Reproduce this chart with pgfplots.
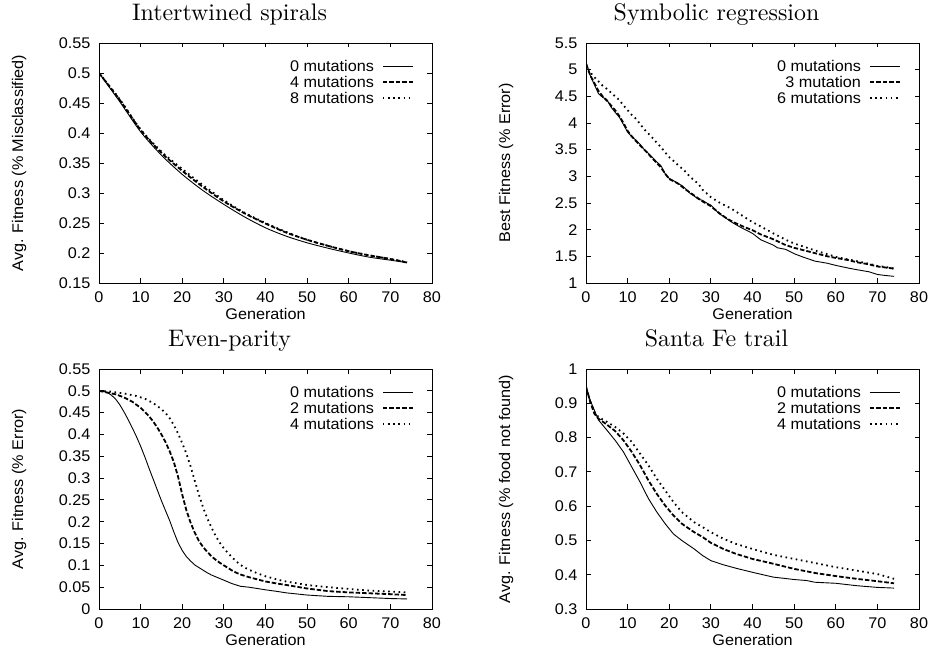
\documentclass[border=0pt]{standalone}
\usepackage{fontspec}
\usepackage{pgfplots}
\pgfplotsset{compat=1.18}
\newfontfamily\helv[FakeStretch=1.05]{Liberation Sans}
\newfontfamily\tfont{lmroman10-regular.otf}

\pgfplotsset{
  gpl/.style={
    scale only axis,
    width=333bp, height=240bp,
    anchor=south west,
    xmin=0, xmax=80,
    xtick={0,10,...,80},
    scaled ticks=false,
    /pgf/number format/assume math mode=true,
    /pgf/number format/fixed,
    /pgf/number format/precision=2,
    tick label style={font=\helv\fontsize{15.5}{18}\selectfont},
    xticklabel style={yshift=-5bp},
    yticklabel style={xshift=-5bp},
    label style={font=\helv\fontsize{15.5}{18}\selectfont},
    xlabel={Generation},
    xlabel style={at={(axis description cs:0.5,-0.129)}, anchor=center},
    ylabel style={at={(axis description cs:-0.24,0.5)}, anchor=center},
    title style={font=\tfont\fontsize{24}{28}\selectfont, at={(axis description cs:0.392,1)}, anchor=base, yshift=16.5bp},
    axis line style={line width=0.9bp},
    major tick style={line width=0.9bp, black},
    major tick length=4.5bp,
    legend plot pos=right,
    legend image code/.code={\draw[#1] (0bp,0bp) -- (30bp,0bp);},
    legend style={draw=none, fill=none, font=\helv\fontsize{15.5}{18}\selectfont,
      at={(1,1)}, anchor=north east, xshift=-18bp, yshift=-16.4bp,
      inner sep=0pt, row sep=2.9bp, column sep=7bp,
      nodes={inner sep=1bp, text height=11.1bp, text depth=0pt},
      cells={anchor=east}},
  },
  s0/.style={black, line width=0.9bp},
  s1/.style={black, line width=1.8bp, dash pattern=on 4.5bp off 2bp},
  s2/.style={black, line width=1.8bp, dash pattern=on 1.6bp off 3.6bp},
}

\begin{document}
\begin{tikzpicture}
\path[use as bounding box] (0,0) rectangle (929bp,652bp);

% Intertwined spirals
\begin{axis}[gpl, at={(99bp,369bp)},
  title={Intertwined spirals},
  ylabel={Avg. Fitness (\% Misclassified)},
  ymin=0.15, ymax=0.55,
  ytick={0.15,0.2,0.25,0.3,0.35,0.4,0.45,0.5,0.55}]
\addplot[s0, smooth] coordinates {(0,0.5)(5,0.452)(10,0.402)(15,0.363)(20,0.331)(25,0.304)(30,0.281)(35,0.26)(40,0.242)(45,0.228)(50,0.217)(55,0.208)(60,0.2)(65,0.193)(70,0.188)(74,0.184)};
\addplot[s1, smooth] coordinates {(0,0.5)(5,0.455)(10,0.405)(15,0.367)(20,0.337)(25,0.31)(30,0.286)(35,0.266)(40,0.249)(45,0.234)(50,0.222)(55,0.212)(60,0.203)(65,0.196)(70,0.19)(74,0.184)};
\addplot[s2, smooth] coordinates {(0,0.5)(5,0.456)(10,0.406)(15,0.369)(20,0.34)(25,0.313)(30,0.288)(35,0.267)(40,0.25)(45,0.235)(50,0.222)(55,0.212)(60,0.203)(65,0.196)(70,0.19)(74,0.185)};
\legend{0 mutations,4 mutations,8 mutations}
\end{axis}

% Symbolic regression
\begin{axis}[gpl, at={(586bp,369bp)},
  title={Symbolic regression},
  ylabel={Best Fitness (\% Error)},
  ymin=1, ymax=5.5,
  ytick={1,1.5,2,2.5,3,3.5,4,4.5,5,5.5}]
\addplot[s0] coordinates {(0,5.15)(1,4.89)(2,4.72)(3,4.55)(4,4.48)(5,4.44)(6,4.3)(7,4.2)(8,4.11)(9,3.97)(10,3.83)(11,3.74)(12,3.68)(13,3.6)(14,3.5)(15,3.43)(16,3.35)(17,3.27)(18,3.2)(19,3.05)(20,2.96)(21,2.92)(22,2.87)(23,2.83)(24,2.76)(25,2.68)(26,2.63)(27,2.57)(28,2.55)(29,2.5)(30,2.46)(31,2.38)(32,2.3)(33,2.25)(35,2.14)(37,2.05)(40,1.93)(42,1.81)(45,1.71)(46,1.66)(48,1.63)(50,1.55)(52,1.49)(55,1.41)(58,1.37)(60,1.33)(63,1.28)(65,1.25)(68,1.21)(70,1.16)(72,1.14)(74,1.125)};
\addplot[s1] coordinates {(0,5.1)(1,4.9)(2,4.75)(3,4.6)(4,4.5)(5,4.42)(6,4.33)(7,4.24)(8,4.13)(9,4.0)(10,3.85)(11,3.75)(12,3.66)(13,3.58)(14,3.5)(15,3.42)(16,3.33)(17,3.25)(18,3.17)(19,3.05)(20,2.95)(22,2.87)(24,2.75)(26,2.64)(28,2.53)(30,2.44)(32,2.31)(34,2.2)(36,2.12)(38,2.05)(40,1.99)(42,1.91)(45,1.82)(48,1.71)(50,1.66)(52,1.62)(55,1.56)(58,1.5)(60,1.47)(63,1.43)(65,1.39)(68,1.35)(70,1.31)(72,1.29)(74,1.27)};
\addplot[s2] coordinates {(0,5.1)(1,4.95)(2,4.86)(3,4.78)(4,4.7)(5,4.64)(6,4.57)(7,4.5)(8,4.43)(9,4.33)(10,4.24)(11,4.15)(12,4.08)(13,3.98)(14,3.88)(15,3.8)(16,3.72)(17,3.63)(18,3.55)(19,3.45)(20,3.36)(22,3.22)(24,3.08)(25,2.99)(27,2.86)(28,2.75)(30,2.61)(32,2.51)(35,2.39)(38,2.24)(40,2.14)(42,2.06)(45,1.93)(48,1.81)(50,1.74)(52,1.69)(55,1.61)(58,1.54)(60,1.49)(63,1.44)(65,1.41)(68,1.36)(70,1.32)(72,1.3)(74,1.27)};
\legend{0 mutations,3 mutation,6 mutations}
\end{axis}

% Even-parity
\begin{axis}[gpl, at={(99bp,43bp)},
  title={Even-parity},
  ylabel={Avg. Fitness (\% Error)},
  ymin=0, ymax=0.55,
  ytick={0,0.05,0.1,0.15,0.2,0.25,0.3,0.35,0.4,0.45,0.5,0.55}]
\addplot[s0] coordinates {(0,0.5)(1,0.499)(2,0.496)(3,0.49)(4,0.481)(5,0.468)(6,0.452)(7,0.434)(8,0.415)(9,0.395)(10,0.373)(11,0.349)(12,0.323)(13,0.298)(14,0.273)(15,0.248)(16,0.225)(17,0.202)(18,0.176)(19,0.152)(20,0.134)(21,0.12)(22,0.11)(23,0.101)(24,0.095)(25,0.089)(26,0.083)(27,0.078)(28,0.074)(29,0.07)(30,0.066)(31,0.062)(32,0.058)(33,0.055)(34,0.052)(36,0.05)(38,0.047)(40,0.044)(43,0.04)(45,0.037)(50,0.032)(55,0.029)(60,0.028)(65,0.026)(70,0.024)(74,0.023)};
\addplot[s1] coordinates {(0,0.5)(2,0.496)(4,0.492)(6,0.485)(8,0.475)(10,0.461)(11,0.452)(12,0.442)(13,0.43)(14,0.416)(15,0.4)(16,0.382)(17,0.361)(18,0.336)(19,0.303)(20,0.262)(21,0.226)(22,0.198)(23,0.175)(24,0.156)(25,0.142)(26,0.131)(27,0.121)(28,0.113)(29,0.106)(30,0.1)(31,0.094)(32,0.088)(33,0.083)(34,0.079)(36,0.073)(38,0.068)(40,0.063)(43,0.058)(45,0.055)(50,0.047)(55,0.041)(60,0.038)(65,0.036)(70,0.034)(74,0.032)};
\addplot[s2] coordinates {(0,0.5)(3,0.498)(6,0.494)(9,0.488)(11,0.482)(13,0.472)(14,0.465)(15,0.458)(16,0.449)(17,0.437)(18,0.421)(19,0.402)(20,0.38)(21,0.356)(22,0.327)(23,0.294)(24,0.262)(25,0.233)(26,0.208)(27,0.187)(28,0.168)(29,0.152)(30,0.139)(31,0.128)(32,0.118)(33,0.109)(34,0.101)(35,0.095)(36,0.09)(38,0.082)(40,0.075)(43,0.067)(45,0.063)(50,0.055)(55,0.05)(60,0.046)(65,0.042)(70,0.04)(74,0.038)};
\legend{0 mutations,2 mutations,4 mutations}
\end{axis}

% Santa Fe trail
\begin{axis}[gpl, at={(586bp,43bp)},
  title={Santa Fe trail},
  ylabel={Avg. Fitness (\% food not found)},
  ymin=0.3, ymax=1,
  ytick={0.3,0.4,0.5,0.6,0.7,0.8,0.9,1}]
\addplot[s0] coordinates {(0,0.948)(1,0.909)(2,0.88)(3,0.851)(5,0.822)(7,0.792)(9,0.758)(11,0.714)(13,0.67)(15,0.622)(17,0.583)(19,0.549)(21,0.519)(23,0.5)(26,0.475)(28,0.456)(30,0.441)(33,0.429)(36,0.419)(40,0.407)(45,0.393)(50,0.386)(53,0.383)(55,0.378)(60,0.375)(65,0.368)(70,0.363)(74,0.361)};
\addplot[s1] coordinates {(0,0.948)(1,0.905)(2,0.87)(3,0.855)(5,0.838)(7,0.819)(9,0.792)(11,0.758)(13,0.719)(15,0.675)(17,0.636)(19,0.602)(21,0.573)(23,0.549)(26,0.524)(28,0.51)(30,0.493)(33,0.475)(36,0.461)(40,0.446)(45,0.432)(50,0.417)(55,0.405)(60,0.396)(65,0.388)(70,0.381)(74,0.375)};
\addplot[s2] coordinates {(0,0.948)(1,0.905)(2,0.875)(3,0.86)(5,0.846)(7,0.831)(9,0.812)(11,0.787)(13,0.753)(15,0.719)(17,0.68)(19,0.646)(21,0.612)(23,0.583)(26,0.553)(28,0.539)(30,0.524)(33,0.505)(36,0.49)(40,0.475)(45,0.458)(50,0.446)(55,0.434)(60,0.422)(65,0.412)(70,0.402)(74,0.388)};
\legend{0 mutations,2 mutations,4 mutations}
\end{axis}
\end{tikzpicture}
\end{document}
